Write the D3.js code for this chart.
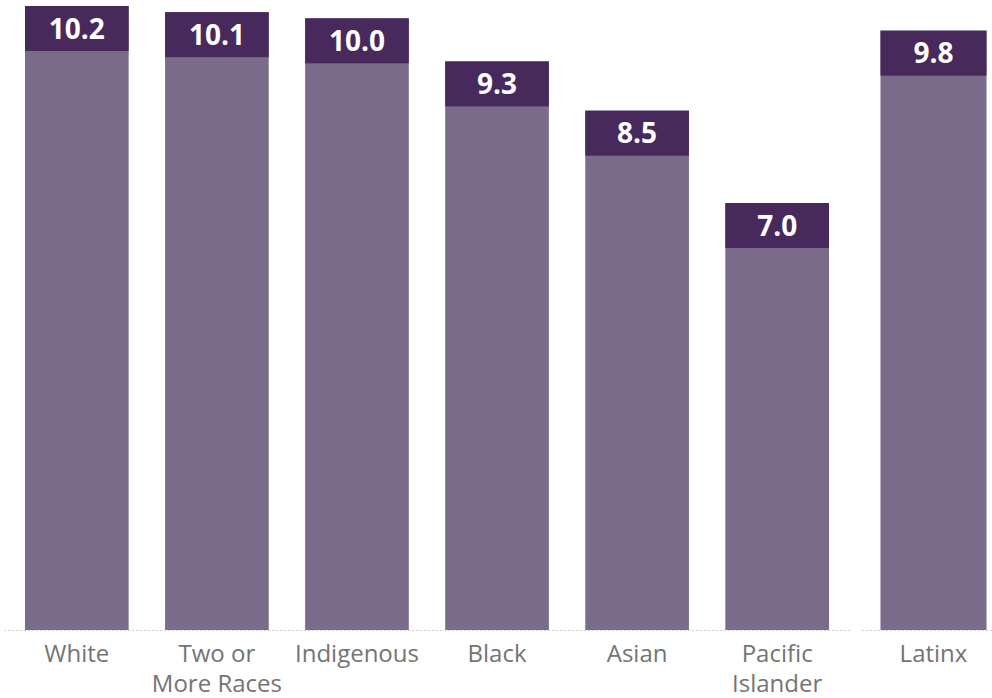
<!DOCTYPE html>
<html lang="en">
  <head>
    <meta charset="UTF-8" />
    <script src="https://d3js.org/d3.v7.min.js"></script>
    <title>Chart</title>
    <style>
      body { margin: 0; background: #fff; }
    </style>
  </head>
  <body>
    <script>
      // data
      const categories = ["White", "Two or More Races", "Indigenous", "Black", "Asian", "Pacific Islander", "Latinx"];
      const values = [10.2, 10.1, 10.0, 9.3, 8.5, 7.0, 9.8];
      const labelLines = [["White"], ["Two or", "More Races"], ["Indigenous"], ["Black"], ["Asian"], ["Pacific", "Islander"], ["Latinx"]];
      const panelOf = [0, 0, 0, 0, 0, 0, 1];

      const width = 992, height = 698;
      const baseline = 630;
      const capH = 45;

      const svg = d3.select("body")
        .append("svg")
        .attr("width", width)
        .attr("height", height);

      const data = categories.map((c, i) => ({
        cat: c, value: values[i], lines: labelLines[i], panel: panelOf[i]
      }));

      // two panels: the six groups, then Latinx on its own
      const panelRanges = [[4, 850], [859, 1008]];
      const xs = panelRanges.map((r, p) =>
        d3.scaleBand()
          .domain(data.filter(d => d.panel === p).map(d => d.cat))
          .range(r)
          .paddingInner(0.26)
          .paddingOuter(0.15)
      );

      const y = d3.scaleLinear().domain([0, 10.2]).range([634, 6]);

      // dotted baselines per panel
      svg.selectAll("line.base")
        .data(panelRanges)
        .join("line")
        .attr("class", "base")
        .attr("x1", (d, i) => d[0] + i * 3)
        .attr("x2", d => Math.min(d[1], width))
        .attr("y1", baseline + 0.5)
        .attr("y2", baseline + 0.5)
        .attr("stroke", "#cfcfcf")
        .attr("stroke-width", 1)
        .attr("stroke-dasharray", "2,2");

      const g = svg.selectAll("g.bar")
        .data(data)
        .join("g")
        .attr("class", "bar");

      g.append("rect")
        .attr("x", d => xs[d.panel](d.cat))
        .attr("y", d => y(d.value))
        .attr("width", d => xs[d.panel].bandwidth())
        .attr("height", d => baseline - y(d.value))
        .attr("fill", "#7b6b8a");

      g.append("rect")
        .attr("x", d => xs[d.panel](d.cat))
        .attr("y", d => y(d.value))
        .attr("width", d => xs[d.panel].bandwidth())
        .attr("height", capH)
        .attr("fill", "#47295b");

      g.append("text")
        .attr("x", d => xs[d.panel](d.cat) + xs[d.panel].bandwidth() / 2)
        .attr("y", d => y(d.value) + capH / 2 + 10)
        .attr("text-anchor", "middle")
        .attr("font-family", "'Open Sans', sans-serif")
        .attr("font-weight", "bold")
        .attr("font-size", 28)
        .attr("fill", "#ffffff")
        .text(d => d.value.toFixed(1));

      const lbl = g.append("text")
        .attr("text-anchor", "middle")
        .attr("font-family", "'Open Sans', sans-serif")
        .attr("font-size", 24)
        .attr("fill", "#747474");

      lbl.selectAll("tspan")
        .data(d => d.lines.map((t, k) => ({ t, k, x: xs[d.panel](d.cat) + xs[d.panel].bandwidth() / 2 })))
        .join("tspan")
        .attr("x", d => d.x)
        .attr("y", d => baseline + 31.5 + d.k * 30)
        .text(d => d.t);
    </script>
  </body>
</html>
